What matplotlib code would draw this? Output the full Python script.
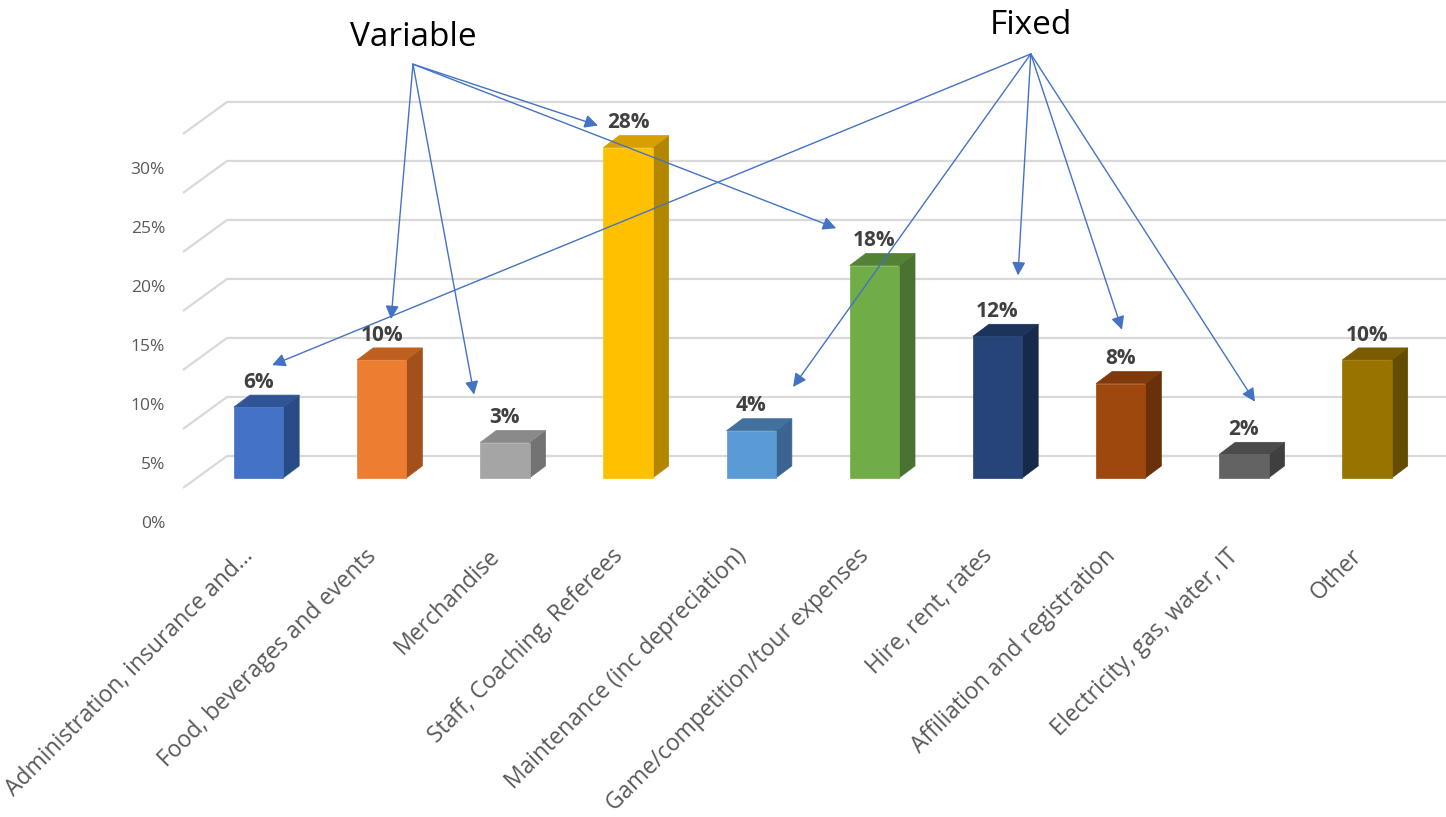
import matplotlib
matplotlib.use("Agg")
import matplotlib.pyplot as plt
from matplotlib.patches import Polygon, Rectangle

# ---- data ----
categories = [
    "Administration, insurance and...",
    "Food, beverages and events",
    "Merchandise",
    "Staff, Coaching, Referees",
    "Maintenance (inc depreciation)",
    "Game/competition/tour expenses",
    "Hire, rent, rates",
    "Affiliation and registration",
    "Electricity, gas, water, IT",
    "Other",
]
shares = [6, 10, 3, 28, 4, 18, 12, 8, 2, 10]
y_ticks = [0, 5, 10, 15, 20, 25, 30]
y_tick_labels = ["0%", "5%", "10%", "15%", "20%", "25%", "30%"]
grid_levels = [5, 10, 15, 20, 25, 30, 35]

front_colors = ["#4472C4", "#ED7D31", "#A5A5A5", "#FFC000", "#5B9BD5",
                "#70AD47", "#264478", "#9E480E", "#636363", "#997300"]
top_colors = ["#2F5597", "#C0601F", "#8A8A8A", "#D6A000", "#41719C",
              "#548235", "#1C335B", "#7F390B", "#4B4B4B", "#7A5C00"]
side_colors = ["#2A4C86", "#A3501A", "#737373", "#B38600", "#3A6590",
               "#4A7230", "#172A4B", "#6A3009", "#3F3F3F", "#634B00"]

# annotation arrow targets for each group (category position, value level)
variable_targets = [(1.076, 16.6), (1.75, 10.2), (2.756, 33.0), (4.69, 24.3)]
fixed_targets = [(0.11, 12.7), (4.34, 10.85), (6.166, 20.3), (7.01, 15.7), (8.09, 9.6)]

# ---- layout constants (data units) ----
BAR_W = 0.40
DEPTH_X = 0.13
DEPTH_Y = 1.02
BASE = 3.14
WALL_LEFT = -0.256
SLANT_X = 0.357
SLANT_Y = 2.71
GRID_COLOR = "#D9D9D9"
TEXT_GRAY = "#595959"

fig = plt.figure(figsize=(14.46, 8.17), dpi=100)
ax = fig.add_axes([0, 0, 1, 1])
ax.set_xlim(-2.099, 9.641)
ax.set_ylim(-25.59, 43.64)
ax.axis("off")

# back-wall gridlines with a slanted side-wall segment
for g in grid_levels:
    ax.plot([WALL_LEFT - SLANT_X, WALL_LEFT, 9.7], [g - SLANT_Y, g, g],
            color=GRID_COLOR, lw=1.6, zorder=1, solid_capstyle="butt")

# value axis labels
for t, lab in zip(y_ticks, y_tick_labels):
    ax.text(-0.759, t - 0.76, lab, ha="right", va="center",
            fontsize=12.5, color=TEXT_GRAY, family="Open Sans")

# pseudo-3D bars
for i, (v, fc, tc, sc) in enumerate(zip(shares, front_colors, top_colors, side_colors)):
    x0, x1 = i - BAR_W / 2, i + BAR_W / 2
    y0, y1 = BASE, BASE + v
    side = Polygon([(x1, y0), (x1 + DEPTH_X, y0 + DEPTH_Y),
                    (x1 + DEPTH_X, y1 + DEPTH_Y), (x1, y1)],
                   closed=True, facecolor=sc, edgecolor=sc, lw=0.5, zorder=3)
    top = Polygon([(x0, y1), (x1, y1), (x1 + DEPTH_X, y1 + DEPTH_Y),
                   (x0 + DEPTH_X, y1 + DEPTH_Y)],
                  closed=True, facecolor=tc, edgecolor=tc, lw=0.5, zorder=3)
    front = Rectangle((x0, y0), BAR_W, v, facecolor=fc, edgecolor=fc,
                      lw=0.5, zorder=4)
    for p in (side, top, front):
        ax.add_patch(p)
    ax.text(i, y1 + DEPTH_Y + 0.2, f"{v}%", ha="center", va="bottom",
            fontsize=15, fontweight="bold", color="#404040",
            family="Open Sans", zorder=5)

# category labels
for i, cat in enumerate(categories):
    ax.text(i - 0.07, -3.2, cat, rotation=45, rotation_mode="anchor",
            ha="right", va="center", fontsize=16.5, color=TEXT_GRAY,
            family="Open Sans")

# group annotations
arrow_kw = dict(arrowstyle="-|>", color="#4472C4", lw=1.0,
                shrinkA=0, shrinkB=0, mutation_scale=20)
ax.text(1.254, 40.5, "Variable", ha="center", va="center",
        fontsize=24, color="black", family="Open Sans")
for tx, ty in variable_targets:
    ax.annotate("", xy=(tx, ty), xytext=(1.254, 38.2),
                arrowprops=arrow_kw, zorder=6)
ax.text(6.27, 41.5, "Fixed", ha="center", va="center",
        fontsize=24, color="black", family="Open Sans")
for tx, ty in fixed_targets:
    ax.annotate("", xy=(tx, ty), xytext=(6.27, 39.07),
                arrowprops=arrow_kw, zorder=6)

fig.savefig("out.png", dpi=100)
